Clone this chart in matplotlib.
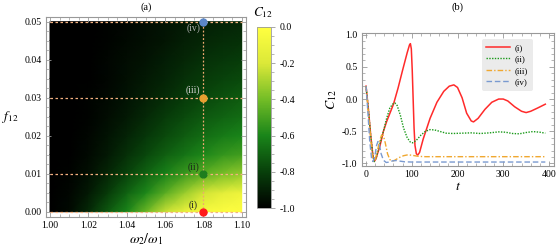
import numpy as np
import matplotlib
matplotlib.use("Agg")
import matplotlib.pyplot as plt
from matplotlib.colors import LinearSegmentedColormap
from matplotlib.ticker import MultipleLocator

plt.rcParams['font.family'] = ['Liberation Serif', 'DejaVu Serif']
plt.rcParams['mathtext.fontset'] = 'stix'

# ---------------- data: panel (a) heat map ----------------
omega_ratio = [1.00, 1.01, 1.02, 1.03, 1.04, 1.05, 1.06, 1.07, 1.08, 1.09, 1.10]
f12_vals = [0.000, 0.005, 0.010, 0.015, 0.020, 0.025, 0.030, 0.035, 0.040, 0.045, 0.050]
C_map = [
    [-1.00, -0.97, -0.87, -0.73, -0.60, -0.42, -0.24, -0.11, -0.05, -0.02, -0.01],  # f=0.000
    [-1.00, -0.98, -0.92, -0.82, -0.70, -0.59, -0.46, -0.33, -0.22, -0.15, -0.10],  # 0.005
    [-1.00, -0.99, -0.95, -0.88, -0.79, -0.70, -0.61, -0.53, -0.45, -0.39, -0.34],  # 0.010
    [-1.00, -1.00, -0.97, -0.92, -0.85, -0.78, -0.71, -0.65, -0.59, -0.54, -0.51],  # 0.015
    [-1.00, -1.00, -0.98, -0.94, -0.89, -0.83, -0.77, -0.72, -0.67, -0.63, -0.60],  # 0.020
    [-1.00, -1.00, -0.99, -0.96, -0.92, -0.87, -0.82, -0.77, -0.73, -0.70, -0.67],  # 0.025
    [-1.00, -1.00, -0.99, -0.97, -0.94, -0.90, -0.86, -0.82, -0.78, -0.75, -0.72],  # 0.030
    [-1.00, -1.00, -1.00, -0.98, -0.95, -0.92, -0.89, -0.85, -0.82, -0.79, -0.77],  # 0.035
    [-1.00, -1.00, -1.00, -0.98, -0.96, -0.94, -0.91, -0.88, -0.85, -0.83, -0.81],  # 0.040
    [-1.00, -1.00, -1.00, -0.99, -0.97, -0.95, -0.93, -0.90, -0.88, -0.86, -0.85],  # 0.045
    [-1.00, -1.00, -1.00, -0.99, -0.98, -0.96, -0.94, -0.92, -0.90, -0.89, -0.88],  # 0.050
]
sel_omega = 1.08
sel_f = [0.00, 0.01, 0.03, 0.05]
sel_labels = ['(i)', '(ii)', '(iii)', '(iv)']
sel_colors = ['#ff1a1a', '#1e7d1e', '#e8a030', '#5b87c8']
label_colors = ['#222222', '#1a2a1a', '#d0d0d0', '#b0b0b0']

# ---------------- data: panel (b) time series ----------------
t_i = [0, 5, 10, 15, 18, 22, 25, 30, 38, 45, 50, 60, 70, 80, 90, 95, 97, 99, 101, 103, 105,
       107, 110, 113, 117, 125, 140, 155, 170, 182, 192, 200, 210, 220, 230, 235, 245, 260,
       275, 290, 300, 310, 325, 340, 350, 360, 375, 392]
C_i = [0.20, -0.15, -0.55, -0.88, -0.97, -0.92, -0.85, -0.74, -0.50, -0.35, -0.26, -0.08, 0.17,
       0.45, 0.72, 0.84, 0.86, 0.78, 0.45, 0.00, -0.45, -0.72, -0.85, -0.87, -0.83, -0.62,
       -0.30, -0.05, 0.12, 0.20, 0.22, 0.18, 0.02, -0.22, -0.34, -0.355, -0.30, -0.16, -0.05,
       0.00, 0.00, -0.03, -0.12, -0.19, -0.21, -0.19, -0.14, -0.08]

t_ii = [0, 5, 10, 15, 18, 22, 30, 38, 45, 52, 58, 63, 68, 75, 82, 90, 97, 102, 110, 120, 130,
        140, 150, 160, 175, 190, 210, 230, 250, 270, 290, 305, 320, 335, 350, 365, 380, 392]
C_ii = [0.20, -0.15, -0.55, -0.88, -0.97, -0.92, -0.70, -0.50, -0.30, -0.14, -0.08, -0.06,
        -0.10, -0.25, -0.45, -0.60, -0.67, -0.68, -0.64, -0.56, -0.50, -0.475, -0.48, -0.50,
        -0.53, -0.535, -0.53, -0.525, -0.535, -0.525, -0.51, -0.515, -0.535, -0.54, -0.52,
        -0.505, -0.515, -0.53]

t_iii = [0, 5, 10, 14, 17, 20, 25, 30, 34, 38, 42, 47, 52, 57, 63, 72, 82, 92, 102, 115, 130,
         160, 200, 250, 300, 350, 392]
C_iii = [0.20, -0.20, -0.60, -0.90, -0.97, -0.94, -0.80, -0.64, -0.56, -0.57, -0.68, -0.85,
         -0.94, -0.965, -0.95, -0.91, -0.88, -0.865, -0.875, -0.89, -0.895, -0.895, -0.895,
         -0.895, -0.895, -0.895, -0.895]

t_iv = [0, 4, 8, 12, 15, 19, 23, 26, 29, 33, 38, 44, 50, 58, 66, 75, 85, 100, 150, 200, 250,
        300, 350, 392]
C_iv = [0.20, -0.20, -0.65, -0.92, -0.97, -0.90, -0.72, -0.66, -0.70, -0.85, -0.95, -0.985,
        -0.98, -0.96, -0.955, -0.965, -0.975, -0.978, -0.978, -0.978, -0.978, -0.978, -0.978,
        -0.978]
series_labels = ['(i)', '(ii)', '(iii)', '(iv)']

# ---------------- figure ----------------
W, H = 558, 250
fig = plt.figure(figsize=(W / 100, H / 100), dpi=100)

def box(l, t, r, b):
    return [l / W, 1 - b / H, (r - l) / W, (b - t) / H]

frame_col = '#999999'
tick_fs = 7

cmap = LinearSegmentedColormap.from_list('avocado', [
    (0.00, (0.0, 0.0, 0.0)),
    (0.20, (0.03, 0.25, 0.04)),
    (0.40, (0.10, 0.52, 0.10)),
    (0.60, (0.45, 0.74, 0.15)),
    (0.80, (0.86, 0.91, 0.22)),
    (1.00, (1.0, 1.0, 0.25)),
])

ax = fig.add_axes(box(45.7, 16.7, 246, 216.7))
X, Y = np.meshgrid(omega_ratio, f12_vals)
Z = np.array(C_map)
mesh = ax.pcolormesh(X, Y, Z, shading='gouraud', cmap=cmap, vmin=-1, vmax=0, rasterized=True)
ax.set_xlim(1.0 - 0.00224, 1.1 + 0.00224)
ax.set_ylim(-0.0013, 0.0513)
dash_col = '#f4b080'
for fv in sel_f:
    ax.plot([omega_ratio[0], omega_ratio[-1]], [fv, fv], ls=(0, (2, 2)), color=dash_col, lw=0.9, zorder=3)
ax.plot([sel_omega, sel_omega], [f12_vals[0], f12_vals[-1]], ls=(0, (1.5, 1.5)), color='#eea870', lw=0.9, zorder=3)
for fv, lab, c, lc in zip(sel_f, sel_labels, sel_colors, label_colors):
    ax.plot([sel_omega], [fv], 'o', color=c, ms=5, zorder=5, clip_on=False)
    dy = -7 if fv < 0.05 else 7
    ax.annotate(lab, (sel_omega, fv), xytext=(-10, -dy), textcoords='offset pixels',
                ha='center', va='center', fontsize=7, color=lc, zorder=6)
ax.set_xticks([1.00, 1.02, 1.04, 1.06, 1.08, 1.10])
ax.set_xticklabels(['1.00', '1.02', '1.04', '1.06', '1.08', '1.10'])
ax.set_yticks([0.00, 0.01, 0.02, 0.03, 0.04, 0.05])
ax.set_yticklabels(['0.00', '0.01', '0.02', '0.03', '0.04', '0.05'])
ax.xaxis.set_minor_locator(MultipleLocator(0.005))
ax.yaxis.set_minor_locator(MultipleLocator(0.0025))
ax.tick_params(which='both', direction='in', top=True, right=True, color=frame_col, labelsize=tick_fs, pad=3)
ax.tick_params(which='major', length=3.5, width=0.6)
ax.tick_params(which='minor', length=2, width=0.5)
for s in ax.spines.values():
    s.set_color(frame_col)
    s.set_linewidth(0.8)
fig.text(146 / W, 1 - 7 / H, '(a)', fontsize=7.5, ha='center', va='center')
ax.set_xlabel(r'$\omega_2/\omega_1$', fontsize=10, labelpad=1)
ax.set_ylabel(r'$f_{12}$', fontsize=9.5, rotation=0, labelpad=10, va='center')

# colorbar
cax = fig.add_axes(box(257.3, 27, 271, 208))
cb = fig.colorbar(mesh, cax=cax)
cb.set_ticks([0.0, -0.2, -0.4, -0.6, -0.8, -1.0])
cb.set_ticklabels(['0.0', '-0.2', '-0.4', '-0.6', '-0.8', '-1.0'])
cb.ax.yaxis.set_minor_locator(MultipleLocator(0.05))
cax.tick_params(which='both', direction='out', color=frame_col, labelsize=tick_fs, pad=3)
cax.tick_params(which='major', length=3, width=0.6)
cax.tick_params(which='minor', length=2, width=0.5)
cb.outline.set_edgecolor(frame_col)
cb.outline.set_linewidth(0.6)
fig.text(263 / W, 1 - 13 / H, r'$C_{12}$', fontsize=9.5, ha='center', va='center')

# panel (b)
bx = fig.add_axes(box(361.7, 32.7, 554, 165.7))
bx.plot(t_i, C_i, color='#ff2a2a', lw=1.1, label=series_labels[0])
bx.plot(t_ii, C_ii, color='#1a9a1a', lw=1.0, ls=(0, (1, 1)), label=series_labels[1])
bx.plot(t_iii, C_iii, color='#f0a830', lw=1.0, ls=(0, (4, 1.5, 1, 1.5)), label=series_labels[2])
bx.plot(t_iv, C_iv, color='#7a9ad0', lw=1.0, ls=(0, (4, 2)), label=series_labels[3])
bx.set_xlim(-9.5, 411)
bx.set_ylim(-1.035, 1.03)
bx.set_xticks([0, 100, 200, 300, 400])
bx.set_yticks([1.0, 0.5, 0.0, -0.5, -1.0])
bx.set_yticklabels(['1.0', '0.5', '0.0', '-0.5', '-1.0'])
bx.xaxis.set_minor_locator(MultipleLocator(20))
bx.yaxis.set_minor_locator(MultipleLocator(0.1))
bx.tick_params(which='both', direction='in', top=True, right=True, color=frame_col, labelsize=tick_fs, pad=3)
bx.tick_params(which='major', length=3.5, width=0.6)
bx.tick_params(which='minor', length=2, width=0.5)
for s in bx.spines.values():
    s.set_color(frame_col)
    s.set_linewidth(0.8)
fig.text(457 / W, 1 - 7 / H, '(b)', fontsize=7.5, ha='center', va='center')
bx.set_xlabel(r'$t$', fontsize=10, labelpad=1)
bx.set_ylabel(r'$C_{12}$', fontsize=10, labelpad=2)
leg = bx.legend(loc='upper right', bbox_to_anchor=(533 / W, 1 - 39 / H), bbox_transform=fig.transFigure,
                fontsize=6.5, frameon=True, fancybox=True, handlelength=2.6, handletextpad=0.6,
                labelspacing=0.35, borderpad=0.5, borderaxespad=0)
leg.get_frame().set_facecolor('#ebebeb')
leg.get_frame().set_edgecolor('none')
leg.get_frame().set_alpha(1)

fig.savefig('out.png', dpi=100)
